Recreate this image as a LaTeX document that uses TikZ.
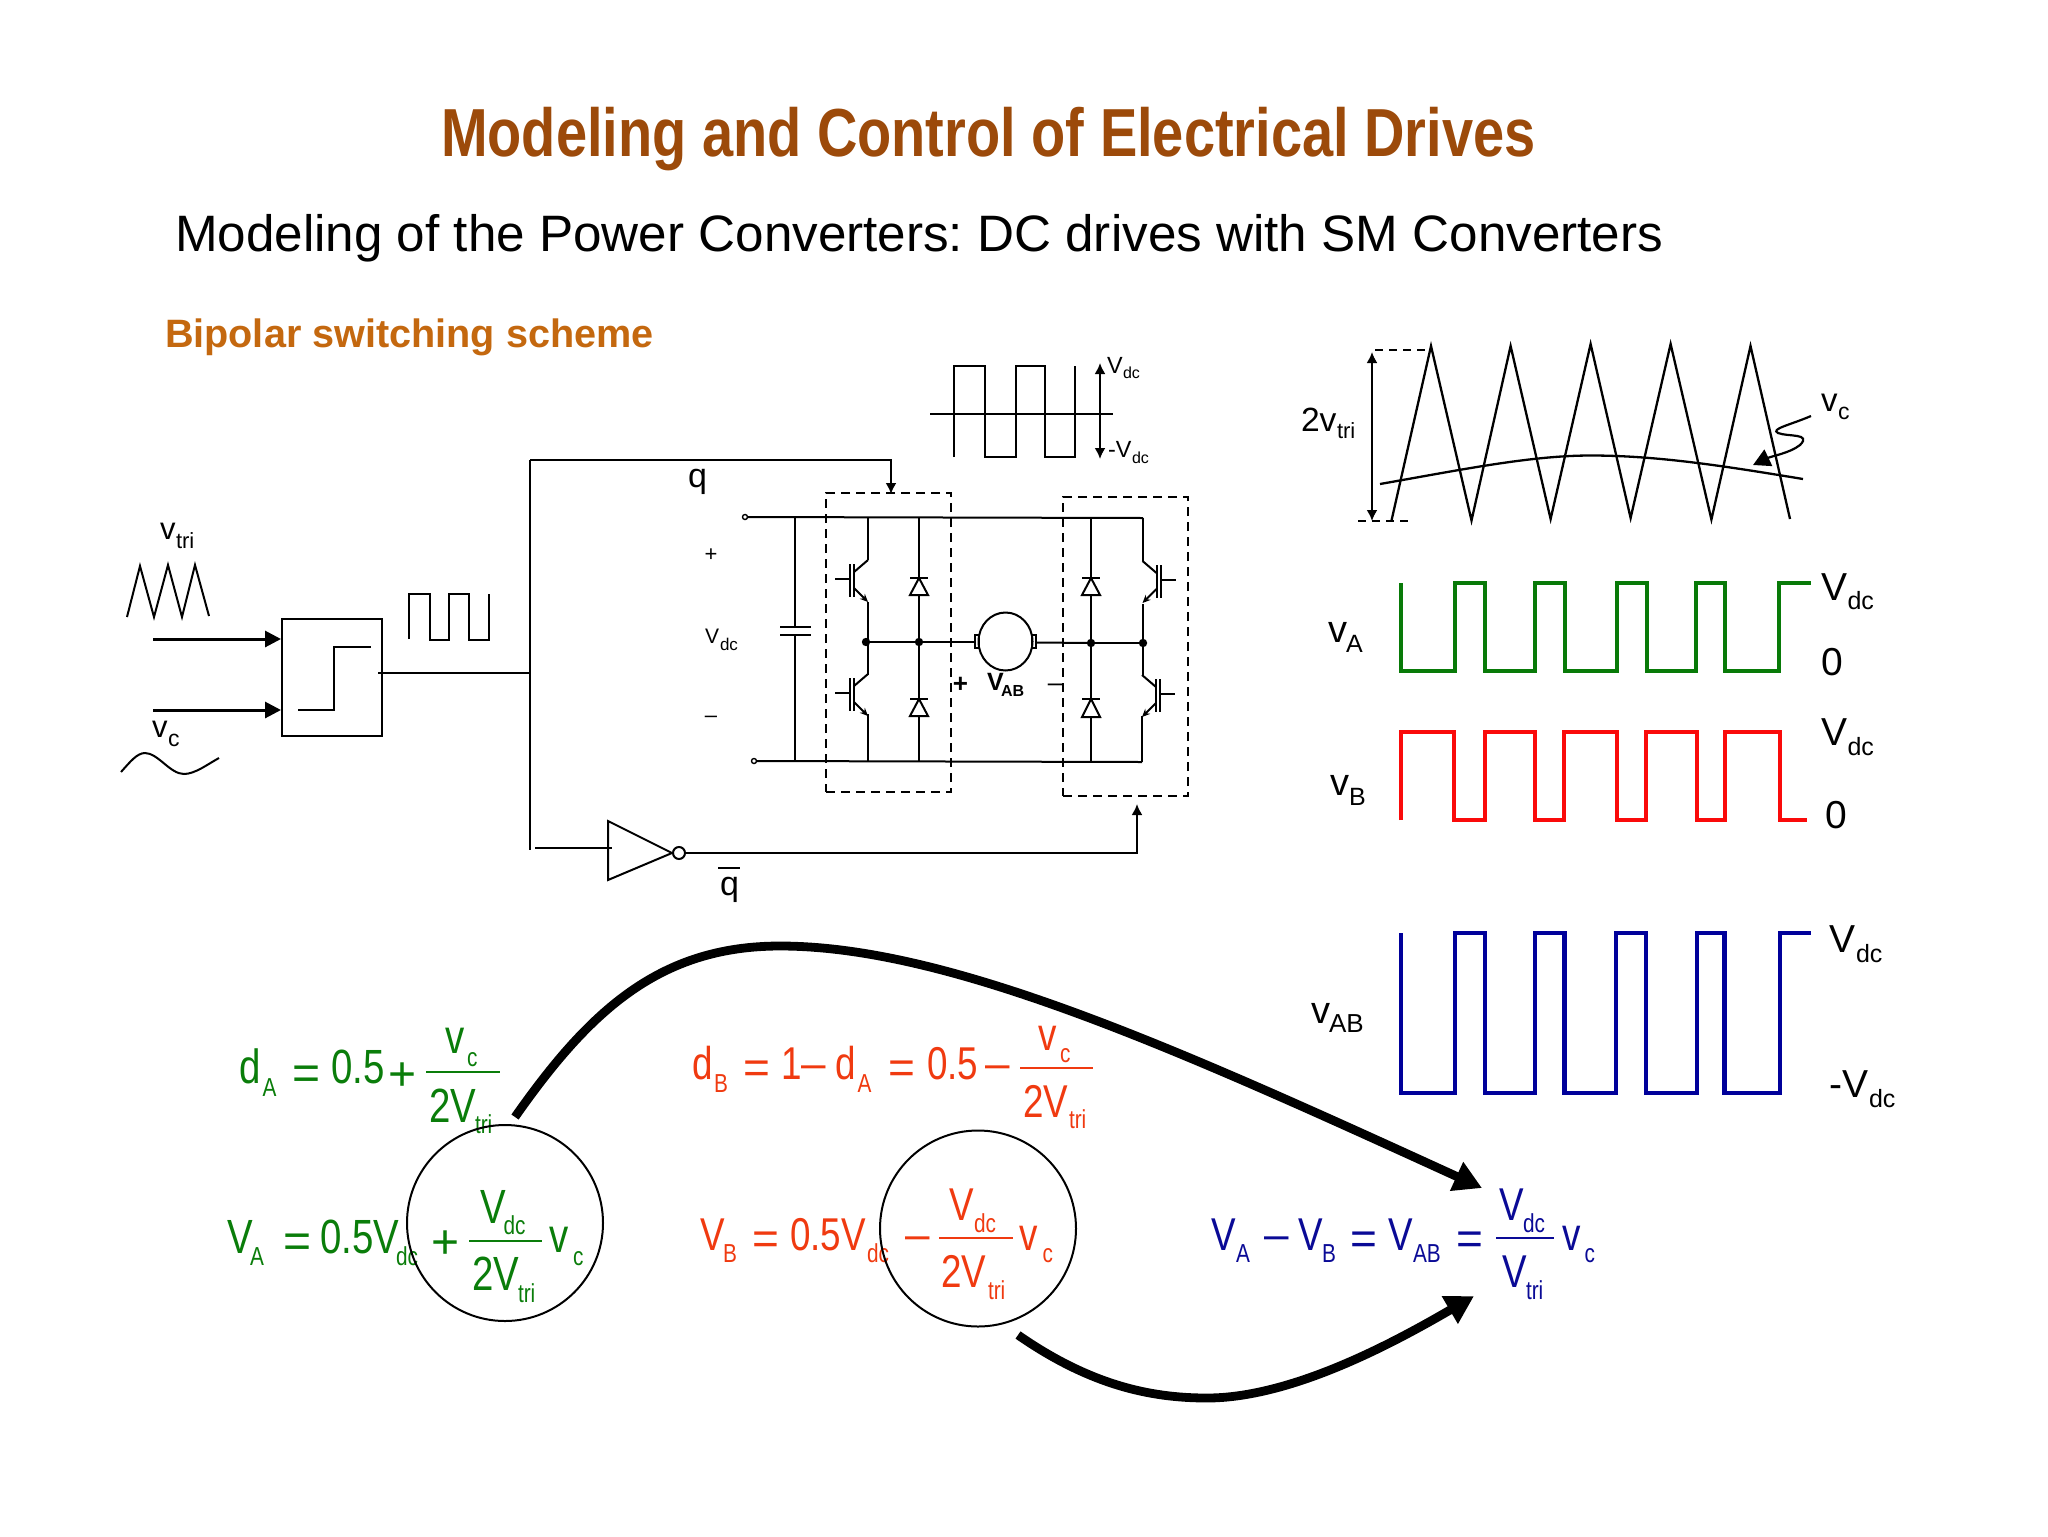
\documentclass[tikz,border=0pt]{standalone}
\usepackage{fontspec}
\setmainfont{Liberation Sans}
\newfontfamily\nar[FakeStretch=0.8]{Liberation Sans}
\newfontfamily\narb[FakeStretch=0.823]{Liberation Sans Bold}
\newfontfamily\plainb{Liberation Sans Bold}
\usetikzlibrary{arrows.meta,calc,shapes.geometric}
\frenchspacing
\definecolor{titlec}{HTML}{9C4A0A}
\definecolor{sectc}{HTML}{C4680F}
\definecolor{eqgreen}{HTML}{0A7D0A}
\definecolor{eqred}{HTML}{F03A10}
\definecolor{eqblue}{HTML}{0A0A96}
\definecolor{wgreen}{HTML}{087A08}
\definecolor{wred}{HTML}{FA0A0A}
\definecolor{wblue}{HTML}{00009A}
\newcounter{tn}
% narrow text: x, baseline y, size, text
\newcommand\tx[4]{\stepcounter{tn}\node[lbl,font=\nar\fontsize{#3}{#3}\selectfont] (t\arabic{tn}) at (#1,#2) {#4};}
% regular-width text
\newcommand\rx[4]{\stepcounter{tn}\node[lbl,font=\rmfamily\fontsize{#3}{#3}\selectfont] (t\arabic{tn}) at (#1,#2) {#4};}
% bold text
\newcommand\bx[4]{\stepcounter{tn}\node[lbl,font=\plainb\fontsize{#3}{#3}\selectfont] (t\arabic{tn}) at (#1,#2) {#4};}
% symbol centred on x, with its middle at y: plus and equals
\newcommand\sy[4]{\stepcounter{tn}\node[anchor=base,inner sep=0pt,outer sep=0pt,font=\rmfamily\fontsize{#3}{#3}\selectfont] (t\arabic{tn}) at (#1,{#2+.72*#3}) {#4};}
% same for the dash
\newcommand\sd[3]{\stepcounter{tn}\node[anchor=base,inner sep=0pt,outer sep=0pt,font=\rmfamily\fontsize{#3}{#3}\selectfont] (t\arabic{tn}) at (#1,{#2+.54*#3}) {–};}
% transistor: rail x, gate y, direction
\newcommand\igbt[3]{\begin{scope}[shift={(#1,#2)},xscale=#3]
\draw[wire] (0,-19) -- (14,-7);
\draw[wire] (14,-15) -- (14,18);
\draw[wire] (18,-15) -- (18,18);
\draw[wire] (18,0) -- (33,0);
\draw[wire,-{Stealth[length=4pt,width=3.5pt]}] (14,9) -- (0,23);
\end{scope}}
% diode: x, bar y, base y
\newcommand\dio[3]{\draw[wire] (#1-9,#2) -- (#1+9,#2);
\draw[wire] (#1,#2) -- (#1-9,#3) -- (#1+9,#3) -- cycle;}
\tikzset{
 lbl/.style={anchor=base west,inner sep=0pt,outer sep=0pt},
 wire/.style={line width=1pt,draw=black},
 sig/.style={line width=1.2pt,draw=black},
 wav/.style={line width=2.1pt,line join=miter},
 dot/.style={circle,fill=black,inner sep=0pt,minimum size=4.2pt,outer sep=0pt},
 term/.style={circle,draw=black,line width=.7pt,inner sep=0pt,minimum size=2.5pt},
 legbox/.style={draw=black,dashed,line width=1pt,dash pattern=on 4.5pt off 3pt,inner sep=0pt,minimum width=62.5pt,minimum height=149.5pt},
 ring/.style={draw=black,circle,line width=1pt,inner sep=0pt,minimum size=98pt},
 big/.style={line width=4.4pt,-{Triangle[length=14pt,width=15pt]}},
 small/.style={-{Latex[length=5.5pt,width=5.5pt]}},
 inarrow/.style={line width=1.5pt,-{Triangle[length=8pt,width=8pt]}},
}
\begin{document}
\begin{tikzpicture}[x=0.5pt,y=-0.5pt]
\path[use as bounding box,fill=white] (0,0) rectangle (2048,1536);
% headings
\node[lbl,text=titlec,font=\narb\fontsize{34}{34}\selectfont] (title) at (441,156) {Modeling and Control of Electrical Drives};
\node[lbl,font=\rmfamily\fontsize{25.6}{25.6}\selectfont] (subtitle) at (175,251) {Modeling of the Power Converters: DC drives with SM Converters};
\node[lbl,text=sectc,font=\plainb\fontsize{19.8}{19.8}\selectfont] (section) at (165,347) {Bipolar switching scheme};
% comparator part
\node[draw=black,line width=1pt,inner sep=0pt,minimum width=50pt,minimum height=58.5pt] (cmp) at (332,677.5) {};
\coordinate (inA) at (153,639);
\coordinate (inB) at (153,710);
\draw[inarrow] (inA) -- (inA -| cmp.west);
\draw[inarrow] (inB) -- (inB -| cmp.west);
\draw[wire] (298,710) -- (334,710) -- (334,647) -- (371,647);
\draw[wire] (127,617) -- (140,566) -- (154,617) -- (168,565) -- (182,617) -- (195,565) -- (209,616);
\draw[wire] (121,772) .. controls (130,762) and (137,753) .. (145,753) .. controls (158,753) and (170,774) .. (184,774) .. controls (195,774) and (208,764) .. (219,758);
\draw[sig] (409,639) -- (409,594) -- (430,594) -- (430,640) -- (449,640) -- (449,594) -- (469,594) -- (469,640) -- (489,640) -- (489,594);
\rx{160}{539}{15.5}{v}
\rx{176}{548}{11}{tri}
\rx{152}{737}{15.5}{v}
\rx{168}{746}{11.5}{c}
% control bus
\coordinate (busT) at (530,460);
\coordinate (busM) at (530,673);
\coordinate (busB) at (530,850);
\draw[wire] (busT) -- (busB);
\draw[wire] (cmp.east |- busM) ++(-5,0) -- (busM);
\coordinate (qcorner) at (891,460);
\coordinate (qtip) at (891,494);
\draw[wire,small] (busT) -- (qcorner) -- (qtip);
\rx{688}{487}{17}{q}
% inverter
\coordinate (invA) at (608,821);
\coordinate (invB) at (608,880);
\coordinate (invC) at (672,853);
\coordinate (invIn) at (535,848);
\coordinate (invInE) at (612,848);
\draw[wire] (invA) -- (invB) -- (invC) -- cycle;
\draw[wire] (invIn) -- (invInE);
\node[circle,draw=black,line width=1pt,inner sep=0pt,minimum size=6pt] (bub) at (679,853) {};
\coordinate (qbcorner) at (1137,853);
\coordinate (qbtip) at (1137,804);
\draw[wire,small] (bub.east) -- (qbcorner) -- (qbtip);
\rx{720}{895}{17}{q}
\draw[wire] (718,868) -- (740,868);
% small output wave
\draw[sig] (954,457) -- (954,366) -- (985,366) -- (985,457) -- (1016,457) -- (1016,366) -- (1045,366) -- (1045,457) -- (1075,457) -- (1075,366);
\draw[wire] (930,414) -- (1113,414);
\coordinate (mwT) at (1100,363);
\coordinate (mwB) at (1100,459);
\draw[wire,{Latex[length=5.5pt,width=5.5pt]}-{Latex[length=5.5pt,width=5.5pt]}] (mwT) -- (mwB);
\rx{1107}{373}{11.7}{V}
\rx{1123}{378}{8}{dc}
\rx{1108}{457}{11.7}{-V}
\rx{1132}{463}{8}{dc}
% bridge
\node[term] (tp) at (745,517) {};
\node[term] (tn) at (754,761) {};
\coordinate (railTE) at (1143,518);
\coordinate (railBE) at (1142,762);
\draw[wire] (tp.east) -- (railTE);
\draw[wire] (tn.east) -- (railBE);
\draw[wire] (795,518) -- (795,627);
\draw[wire] (795,635) -- (795,762);
\draw[wire] (780,627) -- (811,627);
\draw[wire] (780,635) -- (811,635);
\node[legbox] (legA) at (888.5,642.5) {};
\node[legbox] (legB) at (1125.5,646.5) {};
\node[dot] (d1) at (866,642) {};
\node[dot] (d2) at (919,642) {};
\node[dot] (d3) at (1091,643) {};
\node[dot] (d4) at (1143,643) {};
\node[draw=black,ellipse,line width=1pt,inner sep=0pt,minimum width=27pt,minimum height=29pt] (mot) at (1005.5,641.5) {};
\draw[wire] (975,635) rectangle (979,648);
\draw[wire] (1032,635) rectangle (1036,648);
\draw[wire] (d1) -- (d2);
\draw[wire] (d2) -- (975,642);
\draw[wire] (1036,642.5) -- (d3);
\draw[wire] (d3) -- (d4);
% left leg
\draw[wire] (868,518) -- (868,560);
\draw[wire] (868,602) -- (868,642);
\draw[wire] (868,642) -- (868,675);
\draw[wire] (868,714) -- (868,762);
\igbt{868}{579}{-1}
\igbt{868}{693}{-1}
\draw[wire] (919,518) -- (919,578);
\draw[wire] (919,595) -- (919,699);
\draw[wire] (919,716) -- (919,762);
\dio{919}{578}{595}
\dio{919}{699}{716}
% right leg
\draw[wire] (1091,518) -- (1091,578);
\draw[wire] (1091,595) -- (1091,699);
\draw[wire] (1091,717) -- (1091,762);
\dio{1091}{578}{595}
\dio{1091}{699}{717}
\draw[wire] (1142.5,518) -- (1142.5,561);
\draw[wire] (1142.5,604) -- (1142.5,675);
\draw[wire] (1142,716) -- (1142,762);
\igbt{1142.5}{580}{1}
\igbt{1142}{694}{1}
% bridge labels
\sy{711}{554}{11}{+}
\rx{705}{643}{10.5}{V}
\rx{720}{650}{8.5}{dc}
\sd{711}{717}{11}
\sy{960.5}{683}{13}{\plainb +}
\bx{987}{690}{12.5}{V}
\bx{1001}{696}{8}{AB}
\sd{1055}{684}{13}
% triangle carrier
\draw[line width=1.15pt] (1391.5,520.5) -- (1431,346) -- (1471.5,520.5) -- (1510.6,346) -- (1550.6,519) -- (1590.6,344) -- (1630.6,518) -- (1670.6,344) -- (1711.4,519.5) -- (1750.5,346) -- (1790,519);
\draw[line width=1.15pt] (1380,484) .. controls (1460,470) and (1530,455.5) .. (1590.6,455.5) .. controls (1660,455.5) and (1730,467) .. (1803,479);
\draw[wire,dashed,dash pattern=on 4pt off 3pt] (1375,350) -- (1431,350);
\draw[wire,dashed,dash pattern=on 4pt off 3pt] (1358,521) -- (1408,521);
\coordinate (triT) at (1372,352);
\coordinate (triB) at (1372,521);
\draw[wire,{Latex[length=5.5pt,width=5.5pt]}-{Latex[length=5.5pt,width=5.5pt]}] (triT) -- (triB);
\coordinate (vcS) at (1811,416);
\coordinate (vcE) at (1753,465);
\draw[line width=1.1pt,-{Triangle[length=8.5pt,width=9pt]}] (vcS) .. controls (1790,425) and (1770,429) .. (1778,433) .. controls (1788,437) and (1812,433) .. (1800,445) .. controls (1790,453) and (1772,456) .. (vcE);
\rx{1301}{431}{16.8}{2v}
\rx{1337}{438.5}{11}{tri}
\rx{1821}{411}{16.5}{v}
\rx{1838}{419.5}{11.5}{c}
% green wave
\draw[wav,wgreen] (1401,583) -- (1401,671) -- (1455,671) -- (1455,583) -- (1485,583) -- (1485,671) -- (1535,671) -- (1535,583) -- (1565,583) -- (1565,671) -- (1617,671) -- (1617,583) -- (1647,583) -- (1647,671) -- (1696,671) -- (1696,583) -- (1725,583) -- (1725,671) -- (1779,671) -- (1779,583) -- (1811,583);
\rx{1328}{642}{19}{v}
\rx{1346}{652}{12.5}{A}
\rx{1821}{600.5}{19.5}{V}
\rx{1847.5}{609}{12.5}{dc}
\rx{1821}{675}{19.5}{0}
% red wave
\draw[wav,wred] (1401,820) -- (1401,732) -- (1454,732) -- (1454,820) -- (1485,820) -- (1485,732) -- (1535,732) -- (1535,820) -- (1564,820) -- (1564,732) -- (1617,732) -- (1617,820) -- (1646,820) -- (1646,732) -- (1697,732) -- (1697,820) -- (1725,820) -- (1725,732) -- (1780,732) -- (1780,820) -- (1807,820);
\rx{1330}{795.5}{19}{v}
\rx{1349}{805.5}{12.5}{B}
\rx{1821}{745.5}{19.5}{V}
\rx{1847.5}{755}{12.5}{dc}
\rx{1825}{828}{19.5}{0}
% blue wave
\draw[wav,wblue] (1401,933) -- (1401,1093) -- (1455,1093) -- (1455,933) -- (1485,933) -- (1485,1093) -- (1535,1093) -- (1535,933) -- (1564.5,933) -- (1564.5,1093) -- (1616,1093) -- (1616,933) -- (1646,933) -- (1646,1093) -- (1697,1093) -- (1697,933) -- (1724.5,933) -- (1724.5,1093) -- (1780,1093) -- (1780,933) -- (1811,933);
\rx{1311}{1023}{19}{v}
\rx{1329}{1032}{13}{AB}
\rx{1829}{952}{19.5}{V}
\rx{1856}{962}{12.5}{dc}
\rx{1829}{1097}{19.5}{-V}
\rx{1869}{1107}{12.5}{dc}
% green equations
\begin{scope}[text=eqgreen]
\tx{239}{1083}{24}{d}
\tx{262.5}{1096}{13}{A}
\sy{307}{1072}{24}{=}
\tx{331}{1083}{24}{0.5}
\sy{403}{1073}{24}{+}
\tx{445}{1053}{24}{v}
\tx{467}{1066}{13}{c}
\tx{429}{1122}{24}{2V}
\tx{475}{1133}{13}{tri}
\tx{227}{1253}{24}{V}
\tx{250}{1265}{13}{A}
\sy{297.5}{1240}{24}{=}
\tx{320}{1253}{24}{0.5V}
\tx{396}{1265}{13}{dc}
\sy{446}{1241}{24}{+}
\tx{480}{1223}{24}{V}
\tx{503.6}{1234}{13}{dc}
\tx{472}{1290}{24}{2V}
\tx{518}{1302}{13}{tri}
\tx{549.5}{1252}{24}{v}
\tx{573}{1265}{13}{c}
\end{scope}
\draw[line width=1pt,eqgreen] (426,1072) -- (500,1072);
\draw[line width=1pt,eqgreen] (469,1241) -- (542,1241);
% red equations
\begin{scope}[text=eqred]
\tx{692}{1079}{23}{d}
\tx{714}{1092}{13}{B}
\sy{756.5}{1067}{23}{=}
\tx{781}{1079}{23}{1}
\sd{813.5}{1067}{22}
\tx{835}{1079}{23}{d}
\tx{857.6}{1092}{13}{A}
\sy{902}{1067}{23}{=}
\tx{927}{1079}{23}{0.5}
\sd{998}{1067}{22}
\tx{1038}{1050}{23}{v}
\tx{1060}{1062}{13}{c}
\tx{1023}{1117}{23}{2V}
\tx{1069}{1128}{13}{tri}
\tx{700}{1250}{23}{V}
\tx{723}{1262}{13}{B}
\sy{766}{1238}{23}{=}
\tx{790}{1250}{23}{0.5V}
\tx{867}{1262}{13}{dc}
\sd{918}{1238}{22}
\tx{949}{1220}{23}{V}
\tx{974}{1232}{13}{dc}
\tx{941.5}{1287}{23}{2V}
\tx{988}{1299}{13}{tri}
\tx{1019}{1250}{23}{v}
\tx{1042.5}{1262}{13}{c}
\end{scope}
\draw[line width=1pt,eqred] (1020,1068) -- (1093,1068);
\draw[line width=1pt,eqred] (939,1238) -- (1012.5,1238);
% blue equation
\begin{scope}[text=eqblue]
\tx{1211.5}{1250}{23}{V}
\tx{1236}{1262}{13}{A}
\sd{1277}{1238}{22}
\tx{1298.5}{1250}{23}{V}
\tx{1322}{1262}{13}{B}
\sy{1364}{1238}{23}{=}
\tx{1388.5}{1250}{23}{V}
\tx{1413}{1262}{13}{AB}
\sy{1470}{1238}{23}{=}
\tx{1499}{1220}{23}{V}
\tx{1523}{1232}{13}{dc}
\tx{1502}{1287}{23}{V}
\tx{1526}{1299}{13}{tri}
\tx{1562}{1250}{23}{v}
\tx{1584.5}{1262}{13}{c}
\end{scope}
\draw[line width=1pt,eqblue] (1496,1238) -- (1554,1238);
% rings and big arrows
\node[ring] (ringA) at (505,1223) {};
\node[ring] (ringB) at (978,1228.5) {};
\coordinate (aS) at (515,1117);
\coordinate (aP) at (780,946);
\coordinate (aE) at (1482,1188);
\draw[big] (aS) .. controls (590,1010) and (660,946) .. (aP) .. controls (950,946) and (1180,1050) .. (aE);
\coordinate (bS) at (1018,1335);
\coordinate (bP) at (1207,1398);
\coordinate (bE) at (1474,1296);
\draw[big] (bS) .. controls (1090,1385) and (1150,1398) .. (bP) .. controls (1290,1398) and (1390,1345) .. (bE);
\end{tikzpicture}
\end{document}
